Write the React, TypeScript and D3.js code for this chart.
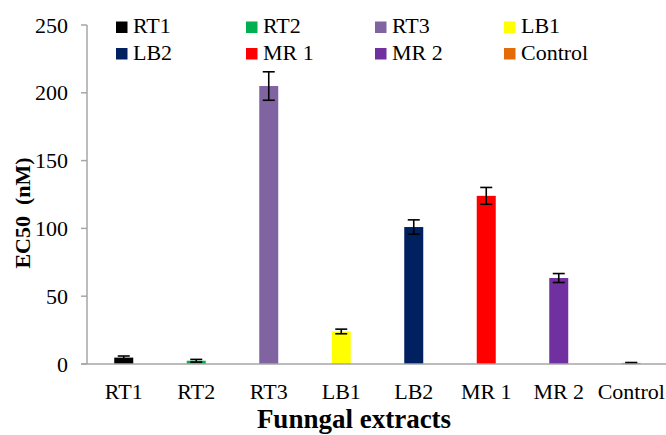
import React from "react";
import * as d3 from "d3";

const categories = ["RT1", "RT2", "RT3", "LB1", "LB2", "MR 1", "MR 2", "Control"];
const values = [4.7, 2.4, 205, 24, 101, 124, 63.4, 0.8];
const errors = [1.2, 1, 10.5, 1.7, 5.3, 6.2, 3.3, 0.3];
const colors = ["#000000", "#00b050", "#8064a2", "#ffff00", "#002060", "#ff0000", "#7030a0", "#e36c09"];
const yTicks = [0, 50, 100, 150, 200, 250];

const W = 666;
const H = 435;
const FONT = "Liberation Serif";

export default function App() {
  const x = d3.scaleBand().domain(categories).range([87.5, 667.5]);
  const y = d3.scaleLinear().domain([0, 250]).range([364, 25]);
  const barW = 19;
  const capW = 12;
  const legendCols = [116, 246, 375, 504];
  const legendRows = [21.5, 48];

  return (
    <svg width={W} height={H} style={{ position: "absolute", left: 0, top: 0, background: "#fff" }}>
      {/* y axis */}
      <line x1={87} x2={87} y1={y(250)} y2={y(0)} stroke="#a6a6a6" strokeWidth={1.5} />
      {yTicks.map((t) => (
        <g key={t}>
          <line x1={81} x2={87} y1={y(t)} y2={y(t)} stroke="#a6a6a6" strokeWidth={1.5} />
          <text x={68} y={y(t) + 7.5} textAnchor="end" fontFamily={FONT} fontSize={22}>
            {t}
          </text>
        </g>
      ))}
      {/* bars */}
      {categories.map((c, i) => {
        const cx = (x(c) as number) + x.bandwidth() / 2;
        return (
          <g key={c}>
            <rect x={cx - barW / 2} y={y(values[i])} width={barW} height={y(0) - y(values[i])} fill={colors[i]} />
            <line x1={cx} x2={cx} y1={y(values[i] + errors[i])} y2={y(values[i] - errors[i])} stroke="#000" strokeWidth={1.6} />
            <line x1={cx - capW / 2} x2={cx + capW / 2} y1={y(values[i] + errors[i])} y2={y(values[i] + errors[i])} stroke="#000" strokeWidth={1.6} />
            <line x1={cx - capW / 2} x2={cx + capW / 2} y1={y(values[i] - errors[i])} y2={y(values[i] - errors[i])} stroke="#000" strokeWidth={1.6} />
            <text x={cx} y={399} textAnchor="middle" fontFamily={FONT} fontSize={22}>
              {c}
            </text>
          </g>
        );
      })}
      {/* x axis */}
      <line x1={81} x2={666} y1={y(0)} y2={y(0)} stroke="#a6a6a6" strokeWidth={1.5} />
      {/* axis titles */}
      <text x={354} y={428} textAnchor="middle" fontFamily={FONT} fontSize={27} fontWeight="bold">
        Funngal extracts
      </text>
      <text
        transform={`translate(30, 213) rotate(-90)`}
        textAnchor="middle"
        fontFamily={FONT}
        fontSize={22}
        fontWeight="bold"
        style={{ whiteSpace: "pre" }}
      >
        {"EC50  (nM)"}
      </text>
      {/* legend */}
      {categories.map((c, i) => {
        const lx = legendCols[i % 4];
        const ly = legendRows[Math.floor(i / 4)];
        return (
          <g key={"lg" + c}>
            <rect x={lx} y={ly} width={11.5} height={11.5} fill={colors[i]} />
            <text x={lx + 17} y={ly + 11.8} fontFamily={FONT} fontSize={22}>
              {c}
            </text>
          </g>
        );
      })}
    </svg>
  );
}
